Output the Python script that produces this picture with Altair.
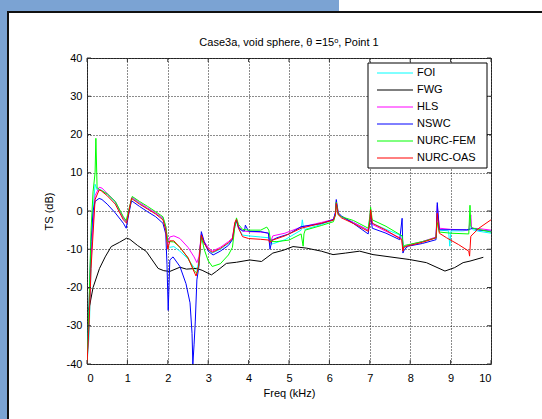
import altair as alt
import pandas as pd

NAMES = ["FOI", "FWG", "HLS", "NSWC", "NURC-FEM", "NURC-OAS"]
COLORS = ["#00FFFF", "#000000", "#FF00FF", "#0000FF", "#00FF00", "#FF0000"]
TITLE = "Case3a, void sphere, θ =15ᵒ, Point 1"

TICKS_X = list(range(0, 11))
TICKS_Y = list(range(-40, 41, 10))

foi_x = [0, 0.05, 0.1, 0.15, 0.2, 0.25, 0.35, 0.5, 0.7, 0.9,
         0.98, 1.05, 1.12, 1.3, 1.5, 1.7, 1.88, 1.95, 2.0, 2.05,
         2.15, 2.3, 2.5, 2.65, 2.72, 2.77, 2.83, 2.9, 3.0, 3.1,
         3.3, 3.5, 3.6, 3.66, 3.7, 3.75, 3.85, 4.0, 4.3, 4.5,
         4.55, 4.62, 4.9, 5.3, 5.33, 5.36, 5.4, 5.8, 6.1, 6.15,
         6.17, 6.22, 6.3, 6.6, 6.96, 7.0, 7.02, 7.06, 7.4, 7.8,
         7.83, 7.86, 7.95, 8.3, 8.64, 8.67, 8.72, 8.95, 8.98, 9.01,
         9.3, 9.45, 9.5, 9.55, 9.7, 10.0]
foi_y = [-40, -33, -15, 0, 7, 5.5, 5.5, 4.3, 2.2, -2,
         -3, 0.5, 3.4, 2, 0.6, -0.6, -2, -4.5, -9, -9.5,
         -9.3, -10.5, -12.5, -14.8, -15.5, -13, -6.5, -8.5, -10, -11,
         -10, -8.5, -7.5, -3.5, -2.8, -4.5, -6.3, -6.5, -6.8, -7,
         -8.7, -8.5, -7.5, -5, -2.3, -4.5, -4.8, -3.5, -2.4, -0.8,
         2, -0.8, -1.6, -3, -5, -2, 0, -3.2, -4.8, -6.5,
         -9, -9.5, -9, -8, -7, 0, -5, -5.2, -9.2, -5.2,
         -5.2, -5.0, -4, -4.9, -5.3, -5.8]

fwg_x = [0.03, 0.07, 0.15, 0.31, 0.45, 0.6, 0.8, 0.98, 1.06, 1.25,
         1.47, 1.76, 1.9, 2.05, 2.3, 2.46, 2.71, 2.85, 3.08, 3.2,
         3.45, 3.7, 4.03, 4.32, 4.6, 4.85, 5.1, 5.43, 5.8, 6.09,
         6.4, 6.75, 7.08, 7.5, 7.99, 8.4, 8.86, 9.1, 9.31, 9.48,
         9.81]
fwg_y = [-26, -24.5, -20, -15, -12, -9.3, -8.2, -7.1, -7.4, -9,
         -10.6, -15, -15.6, -15.8, -14.7, -15.2, -15, -15.5, -16.7, -15.8,
         -13.7, -13.4, -12.8, -13.2, -11, -10.3, -9.3, -9.7, -10.5, -11.4,
         -11, -10.5, -11.4, -12, -12.7, -13.5, -15.7, -14.8, -13.5, -13.1,
         -12.1]

hls_x = [0, 0.05, 0.1, 0.2, 0.3, 0.37, 0.5, 0.7, 0.9, 0.98,
         1.05, 1.12, 1.3, 1.5, 1.7, 1.88, 1.95, 2.0, 2.05, 2.15,
         2.3, 2.5, 2.65, 2.72, 2.77, 2.83, 2.9, 3.0, 3.1, 3.3,
         3.5, 3.6, 3.66, 3.7, 3.75, 3.85, 4.0, 4.3, 4.5, 4.53,
         4.6, 4.9, 5.3, 5.8, 6.1, 6.15, 6.17, 6.22, 6.3, 6.6,
         6.96, 7.0, 7.02, 7.06, 7.4, 7.79, 7.82, 7.84, 7.92, 8.3,
         8.64, 8.67, 8.72, 9.0, 9.45, 9.5, 9.52, 9.7, 10.0]
hls_y = [-40, -28, -12, 4, 6.2, 6.0, 4.6, 2.5, -1.8, -2.8,
         0.8, 3.6, 2.2, 0.8, -0.5, -1.8, -4, -8.5, -6.8, -6.5,
         -7.2, -9.5, -12, -13.5, -12, -6, -8, -9.5, -10.5, -9.5,
         -8, -7, -3, -2.3, -4, -5.2, -5.4, -5.5, -5.8, -8.5,
         -6.5, -5.8, -4.2, -3, -2.2, -0.5, 2.5, -0.8, -1.5, -3,
         -5, -2.5, 0.5, -3.5, -5.3, -7.2, -10, -9.5, -9, -8,
         -6.8, 1.5, -4.5, -4.8, -5, -1, -4.5, -4.6, -5]

nswc_x = [0, 0.05, 0.1, 0.15, 0.2, 0.3, 0.37, 0.5, 0.7, 0.9,
          0.97, 1.03, 1.1, 1.3, 1.5, 1.7, 1.88, 1.95, 1.98, 2.01,
          2.05, 2.13, 2.3, 2.45, 2.55, 2.6, 2.62, 2.65, 2.68, 2.72,
          2.77, 2.83, 2.9, 3.0, 3.12, 3.3, 3.5, 3.6, 3.66, 3.7,
          3.76, 3.85, 3.9, 3.92, 4.0, 4.3, 4.49, 4.53, 4.58, 4.7,
          5.0, 5.3, 5.8, 6.1, 6.15, 6.17, 6.22, 6.3, 6.6, 6.96,
          7.0, 7.02, 7.06, 7.4, 7.74, 7.8, 7.82, 7.86, 7.95, 8.3,
          8.64, 8.67, 8.72, 9.0, 9.4, 9.5, 9.55, 9.7, 10.0]
nswc_y = [-40, -25, -8, 0, 2.5, 3.3, 3.0, 1.8, -0.5, -3.2,
          -4.5, -1, 2.7, 1.2, -0.2, -1.5, -3.2, -6, -14, -26,
          -12.8, -12, -14.5, -19, -24, -32, -40, -35, -29, -18,
          -14.5, -5.4, -8, -10.5, -11.5, -10.5, -9, -7.5, -4, -2.5,
          -4.5, -5.2, -5.2, -3.7, -5.3, -5.4, -5.8, -10, -7.6, -7,
          -6, -4.1, -3.3, -2.2, -0.3, 3.0, -0.5, -1.3, -3.3, -6,
          -3, -0.5, -4.5, -5.8, -7.5, -1.9, -11, -10, -9.2, -8.5,
          -7.5, 2.2, -4.9, -4.9, -4.9, -4.7, -4.5, -5, -5.3]

fem_x = [0, 0.05, 0.1, 0.15, 0.2, 0.22, 0.25, 0.35, 0.5, 0.7,
         0.9, 0.97, 1.05, 1.12, 1.3, 1.5, 1.7, 1.88, 1.95, 2.0,
         2.05, 2.15, 2.3, 2.5, 2.65, 2.72, 2.77, 2.83, 2.9, 3.0,
         3.1, 3.3, 3.5, 3.6, 3.66, 3.7, 3.75, 3.85, 4.0, 4.3,
         4.45, 4.5, 4.55, 4.7, 5.0, 5.3, 5.35, 5.37, 5.4, 5.8,
         6.1, 6.15, 6.17, 6.22, 6.3, 6.6, 6.96, 7.0, 7.02, 7.06,
         7.4, 7.8, 7.83, 7.86, 7.95, 8.3, 8.64, 8.67, 8.72, 9.0,
         9.45, 9.48, 9.5, 9.55, 9.7, 10.0]
fem_y = [-40, -25, -5, 5, 10, 19, 6, 5.4, 4.5, 2.5,
         -1.5, -2.5, 1, 3.8, 2.5, 1.2, -0.2, -1.5, -4, -8,
         -8, -8.1, -9.5, -12.3, -15.5, -16.3, -14, -6.5, -10, -13,
         -14.5, -13.8, -11.5, -9.5, -4, -1.8, -3.5, -4.8, -5, -5,
         -4.2, -5, -8, -8, -7.6, -6, -9.2, -6, -5, -3.8,
         -2.8, -1, 2.3, -1, -1.5, -2.5, -4.5, -1.5, 1, -2.3,
         -4, -6.5, -9.5, -9, -8.8, -8, -7, -3, -5.5, -5.8,
         -6, 1.5, -4, -4.5, -4.8, -5.5]

oas_x = [0, 0.05, 0.1, 0.2, 0.3, 0.35, 0.5, 0.7, 0.9, 0.98,
         1.05, 1.1, 1.3, 1.5, 1.7, 1.88, 1.95, 2.0, 2.05, 2.15,
         2.3, 2.5, 2.63, 2.7, 2.76, 2.83, 2.9, 3.0, 3.1, 3.3,
         3.5, 3.6, 3.66, 3.7, 3.75, 3.85, 4.0, 4.3, 4.5, 4.52,
         4.6, 4.9, 5.3, 5.8, 6.1, 6.15, 6.17, 6.22, 6.3, 6.6,
         6.96, 7.0, 7.02, 7.06, 7.4, 7.79, 7.82, 7.84, 7.92, 8.3,
         8.64, 8.67, 8.72, 8.9, 9.2, 9.45, 9.47, 9.5, 9.7, 10.0]
oas_y = [-40, -30, -15, 3, 5.5, 5.3, 4.0, 1.8, -2.3, -3.2,
         0.5, 3.3, 1.8, 0.5, -0.8, -2.3, -5, -10, -7.8, -7.8,
         -9.5, -12.2, -15.4, -17, -14.5, -6.3, -8.5, -10, -10.8, -9.8,
         -8.3, -7.3, -3, -2.2, -4.5, -6.7, -7.2, -7.4, -7.6, -8.2,
         -7.6, -6.5, -4.5, -3.2, -2.4, -1, 2, -1, -1.8, -3.3,
         -5.3, -3, 0.3, -3.2, -5, -7.5, -10.5, -9.5, -9.2, -8.2,
         -7, -0.6, -5.8, -7, -8.8, -10.5, -11.8, -6.6, -4.5, -2.3]

SERIES = {
    "FOI": (foi_x, foi_y),
    "FWG": (fwg_x, fwg_y),
    "HLS": (hls_x, hls_y),
    "NSWC": (nswc_x, nswc_y),
    "NURC-FEM": (fem_x, fem_y),
    "NURC-OAS": (oas_x, oas_y),
}

rows = []
for name, (xs, ys) in SERIES.items():
    assert len(xs) == len(ys), name
    for i, (a, b) in enumerate(zip(xs, ys)):
        rows.append({"series": name, "f": a, "ts": b, "i": i})
df = pd.DataFrame(rows)

legend_df = pd.DataFrame({"name": NAMES, "idx": list(range(len(NAMES)))})
one = pd.DataFrame({"k": [0]})
title_df = pd.DataFrame({"title": [TITLE]})
tx = pd.DataFrame({"t": TICKS_X})
ty = pd.DataFrame({"t": TICKS_Y})

W, H = 404, 306
FONT = "Liberation Sans"

color_scale = alt.Scale(domain=NAMES, range=COLORS)
xs_ = alt.Scale(domain=[0, 10], nice=False)
ys_ = alt.Scale(domain=[-40, 40], nice=False)
x_axis = alt.Axis(values=TICKS_X, grid=True, ticks=False, domain=False,
                  labelPadding=8, titlePadding=4)


def deco(color, x, x2, y, y2):
    return alt.Chart(one).mark_rect(color=color).encode(
        x=alt.value(x), x2=alt.value(x2), y=alt.value(y), y2=alt.value(y2))


blue = "#7ba3d3"
decor = [
    deco(blue, -87, -80, -58, 361),
    deco(blue, -87, 252, -58, -47),
    deco("#111111", -80, -78, -47, 361),
    deco("#111111", -80, 455, -47, -45),
]

title_mark = alt.Chart(title_df).mark_text(
    align="center", baseline="middle", fontSize=11, font=FONT, color="black"
).encode(x=alt.value(W / 2), y=alt.value(-15), text="title:N")

lines = alt.Chart(df).mark_line(strokeWidth=1, clip=True).encode(
    x=alt.X("f:Q", scale=xs_, title="Freq (kHz)", axis=x_axis),
    y=alt.Y("ts:Q", scale=ys_, title="TS (dB)",
            axis=alt.Axis(values=TICKS_Y, grid=True, ticks=False, domain=False,
                          labelPadding=5, titlePadding=12,
                          labelExpr="'' + datum.value")),
    color=alt.Color("series:N", scale=color_scale, legend=None),
    order=alt.Order("i:Q"),
)

tick_col = "#333333"
tick_layers = [
    alt.Chart(tx).mark_rule(color=tick_col).encode(
        x=alt.X("t:Q", scale=xs_, title="Freq (kHz)", axis=x_axis),
        y=alt.value(H), y2=alt.value(H - 4)),
    alt.Chart(tx).mark_rule(color=tick_col).encode(
        x=alt.X("t:Q", scale=xs_, title="Freq (kHz)", axis=x_axis),
        y=alt.value(0), y2=alt.value(4)),
    alt.Chart(ty).mark_rule(color=tick_col).encode(
        y=alt.Y("t:Q", scale=ys_, axis=None), x=alt.value(0), x2=alt.value(4)),
    alt.Chart(ty).mark_rule(color=tick_col).encode(
        y=alt.Y("t:Q", scale=ys_, axis=None), x=alt.value(W), x2=alt.value(W - 4)),
]

leg_y = alt.Y("idx:Q", scale=alt.Scale(domain=[0, 5], range=[15, 100]), axis=None)
leg_box = alt.Chart(one).mark_rect(fill="white", stroke="black", strokeWidth=1).encode(
    x=alt.value(281), x2=alt.value(400), y=alt.value(5), y2=alt.value(110))
leg_lines = alt.Chart(legend_df).mark_rule(strokeWidth=1).encode(
    x=alt.value(290), x2=alt.value(326), y=leg_y,
    color=alt.Color("name:N", scale=color_scale, legend=None))
leg_text = alt.Chart(legend_df).mark_text(
    align="left", baseline="middle", fontSize=11, font=FONT, color="black").encode(
    x=alt.value(330), y=leg_y, text="name:N")

chart = alt.layer(
    *decor, title_mark, lines, *tick_layers, leg_box, leg_lines, leg_text
).resolve_scale(
    y="independent"
).properties(
    width=W, height=H,
    autosize=alt.AutoSizeParams(type="none"),
    padding={"left": 87, "top": 58, "right": 51, "bottom": 55},
    background="white",
).configure_view(
    stroke="#404040", strokeWidth=1
).configure_axis(
    labelFont=FONT, titleFont=FONT, labelFontSize=11, titleFontSize=11,
    labelColor="black", titleColor="black", titleFontWeight="normal",
    gridColor="#000000", gridDash=[1, 2], gridWidth=1, gridOpacity=0.9,
)

chart.save("out.html", embed_options={"renderer": "svg", "actions": False})
